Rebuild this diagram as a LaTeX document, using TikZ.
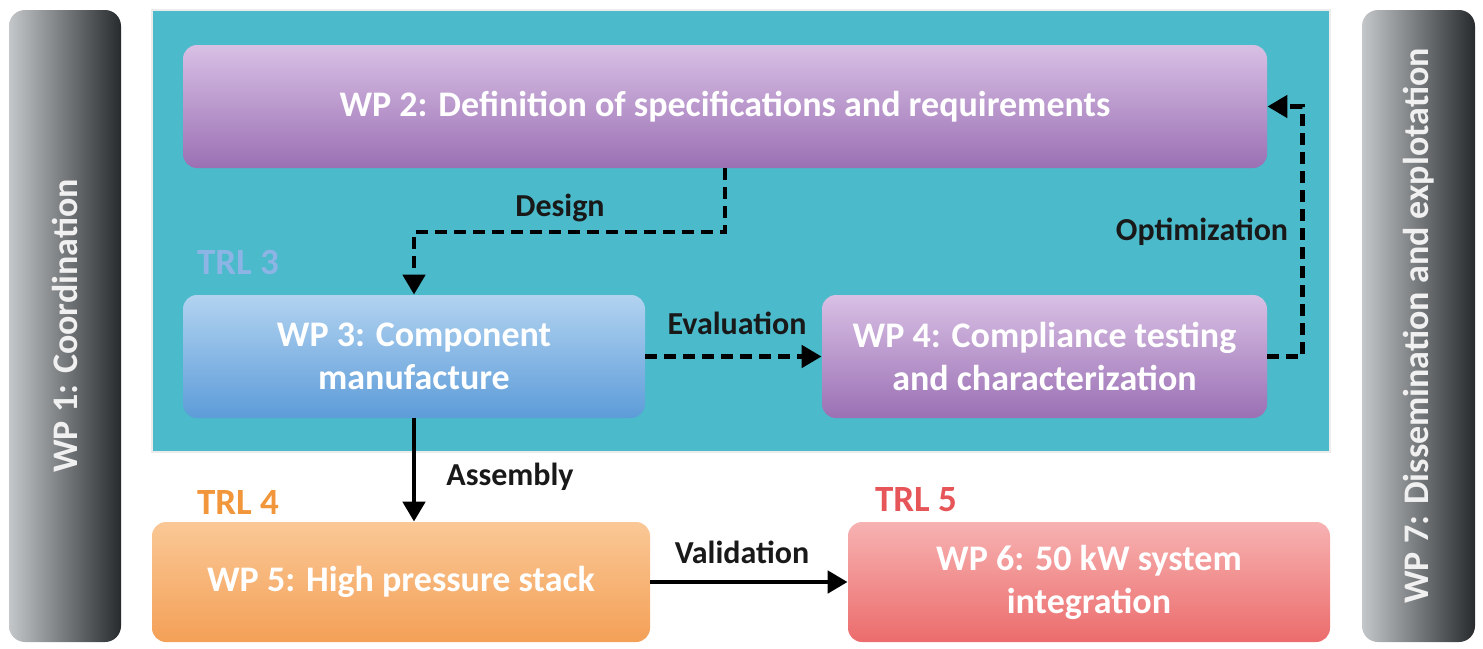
\documentclass[tikz,border=0pt]{standalone}
\usepackage{fontspec}
\setmainfont{Carlito}
\usetikzlibrary{arrows.meta,calc}
\definecolor{tealBg}{RGB}{75,186,202}
\definecolor{barLight}{RGB}{196,199,201}
\definecolor{barDark}{RGB}{40,43,46}
\definecolor{purpTop}{RGB}{216,192,228}
\definecolor{purpBot}{RGB}{155,112,180}
\definecolor{blueTop}{RGB}{178,211,240}
\definecolor{blueBot}{RGB}{93,156,217}
\definecolor{orngTop}{RGB}{250,200,150}
\definecolor{orngBot}{RGB}{244,160,87}
\definecolor{redTop}{RGB}{247,178,178}
\definecolor{redBot}{RGB}{236,108,108}
\definecolor{trlBlue}{RGB}{140,180,228}
\definecolor{trlOrange}{RGB}{242,150,60}
\definecolor{trlRed}{RGB}{230,85,88}
\tikzset{
wpBox/.style={rounded corners=7pt, text=white, align=center, inner sep=0pt,
    font=\bfseries\fontsize{18}{21.5}\selectfont},
sideBar/.style={rounded corners=8pt, left color=barLight, right color=barDark,
    inner sep=0pt, minimum width=56pt, minimum height=316pt},
sideText/.style={rotate=90, text=white!88!gray, font=\bfseries\fontsize{18}{21}\selectfont},
flowLabel/.style={text=black!90, font=\bfseries\fontsize{16}{18}\selectfont},
trlLabel/.style={font=\bfseries\fontsize{18.5}{20}\selectfont},
flowDash/.style={line width=2.4pt, dash pattern=on 6pt off 3.5pt, -{Triangle[width=11pt,length=10pt]}},
flowSolid/.style={line width=2.4pt, -{Triangle[width=11pt,length=10pt]}}
}
\begin{document}
\begin{tikzpicture}[x=0.5pt,y=-0.5pt]
    \useasboundingbox (0,0) rectangle (1483,648);
    % side work packages
    \node[sideBar] (wp1) at (65,326) {};
    \node[sideText] (wp1t) at (wp1) {WP 1: Coordination};
    \node[sideBar, minimum width=56.5pt] (wp7) at (1418.5,326) {};
    \node[sideText] (wp7t) at (wp7) {WP 7: Dissemination and explotation};

    % TRL 3 area
    \node[fill=tealBg, draw=white!85!gray, line width=0.8pt, minimum width=589pt,
        minimum height=221pt, inner sep=0pt] (trl3box) at (741,231) {};

    \node[wpBox, top color=purpTop, bottom color=purpBot, minimum width=542pt,
        minimum height=61.5pt] (wp2) at (725,106.5)
        {WP 2: Definition of specifications and requirements};
    \node[wpBox, top color=blueTop, bottom color=blueBot, minimum width=231pt,
        minimum height=61.5pt] (wp3) at (414,356.5) {WP 3: Component\\manufacture};
    \node[wpBox, top color=purpTop, bottom color=purpBot, minimum width=222.5pt,
        minimum height=61.5pt] (wp4) at (1044.5,356.5)
        {WP 4: Compliance testing\\and characterization};
    \node[trlLabel, text=trlBlue] (trl3) at (238,262) {TRL 3};

    % TRL 4 / TRL 5
    \node[wpBox, top color=orngTop, bottom color=orngBot, minimum width=249pt,
        minimum height=60pt] (wp5) at (401,582) {WP 5: High pressure stack};
    \node[wpBox, top color=redTop, bottom color=redBot, minimum width=241pt,
        minimum height=60pt] (wp6) at (1089,582) {WP 6: 50 kW system\\integration};
    \node[trlLabel, text=trlOrange] (trl4) at (238,502) {TRL 4};
    \node[trlLabel, text=trlRed] (trl5) at (916,500) {TRL 5};

    % connectors
    \coordinate (dsg) at (725,232);
    \draw[flowDash] (wp2.south -| dsg) -- (dsg) -| (wp3.north);
    \node[flowLabel] (dsgl) at (560,208) {Design};
    \draw[flowDash] (wp3.east) -- (wp4.west);
    \node[flowLabel] (evl) at (737,323) {Evaluation};
    \draw[flowDash] (wp4.east) -- ++(35,0) |- (wp2.east);
    \node[flowLabel] (optl) at (1202,232) {Optimization};
    \draw[flowSolid] (wp3.south) -- (wp3.south |- wp5.north);
    \node[flowLabel] (asml) at (510,477) {Assembly};
    \draw[flowSolid] (wp5.east) -- (wp6.west);
    \node[flowLabel] (vall) at (742,552) {Validation};
\end{tikzpicture}
\end{document}
